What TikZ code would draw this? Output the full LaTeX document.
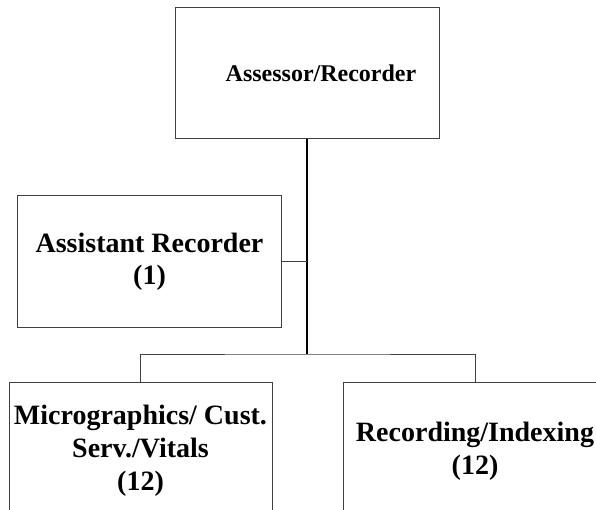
\documentclass[tikz,border=0pt]{standalone}
\usepackage{fontspec}
\setmainfont{Liberation Serif}
\begin{document}
\begin{tikzpicture}[x=1pt,y=-1pt,font=\bfseries\fontsize{28}{33}\selectfont,box/.style={draw=black!75, line width=1pt, minimum width=264pt, minimum height=131pt, align=center, inner sep=0pt},link/.style={draw=black, line width=1.3pt}]
\useasboundingbox (0,0) rectangle (596,510);
\clip (0,0) rectangle (596,510);
\node[box, font=\bfseries\fontsize{24}{28}\selectfont] (assessor) at (307,73.5) {\hspace*{28pt}Assessor/Recorder};
\node[box, minimum height=132pt, font=\bfseries\fontsize{28}{32}\selectfont] (assistant) at (149.5,261.5) {Assistant Recorder\\(1)};
\node[box, minimum width=263pt, minimum height=138pt] (micro) at (140.5,451) {Micrographics/ Cust.\\Serv./Vitals\\(12)};
\node[box, minimum height=138pt] (recording) at (475,451) {Recording/Indexing\\(12)};
\coordinate (bar) at (307,354);
\draw[link] (assessor.south) -- (bar);
\draw[draw=black!75, line width=1pt] (assistant.east) -- (assistant.east -| bar);
\draw[draw=black!75, line width=1pt] (micro.north) |- (bar) -| (recording.north);
\end{tikzpicture}
\end{document}
